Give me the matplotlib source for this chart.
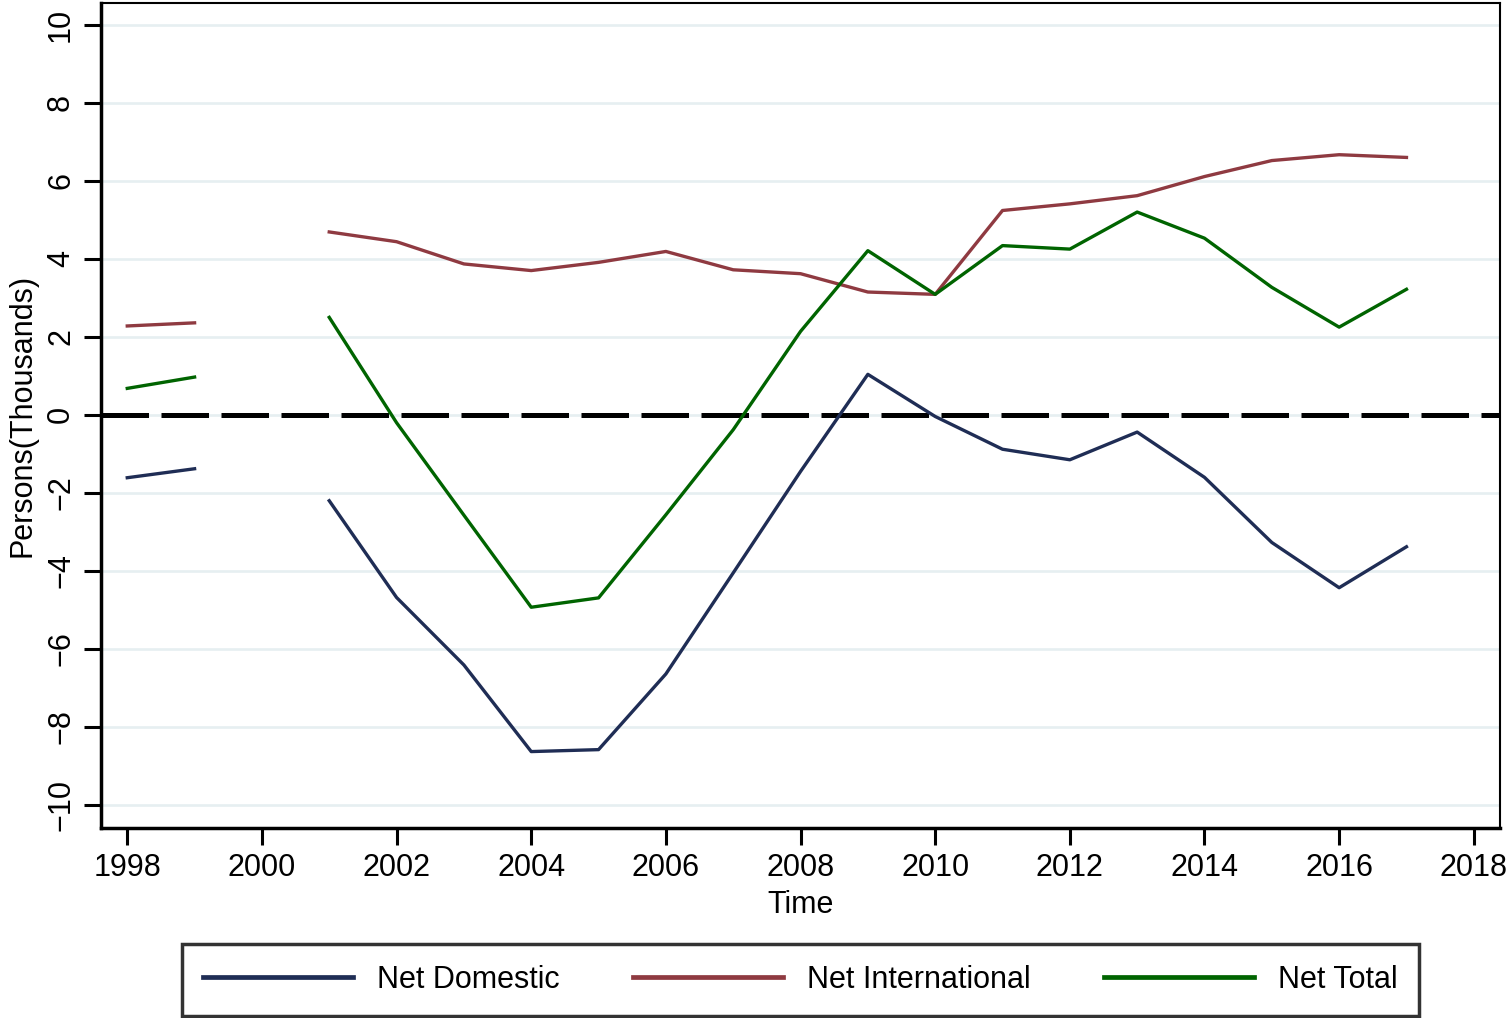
import numpy as np
import matplotlib
matplotlib.use('Agg')
import matplotlib.pyplot as plt

plt.rcParams['font.family'] = ['Liberation Sans', 'DejaVu Sans']

# Data (thousands of persons); 2000 is missing in the source
years = [1998, 1999, 2000, 2001, 2002, 2003, 2004, 2005, 2006, 2007, 2008,
         2009, 2010, 2011, 2012, 2013, 2014, 2015, 2016, 2017]
net_domestic = [-1.61, -1.38, np.nan, -2.20, -4.68, -6.41, -8.63, -8.58, -6.64, -4.05, -1.45,
                1.04, -0.04, -0.88, -1.15, -0.44, -1.60, -3.27, -4.43, -3.38]
net_international = [2.28, 2.36, np.nan, 4.69, 4.44, 3.87, 3.70, 3.91, 4.19, 3.72, 3.62,
                     3.15, 3.09, 5.24, 5.41, 5.62, 6.11, 6.52, 6.67, 6.60]
net_total = [0.68, 0.97, np.nan, 2.50, -0.20, -2.57, -4.93, -4.69, -2.56, -0.38, 2.14,
             4.21, 3.09, 4.34, 4.25, 5.20, 4.53, 3.27, 2.25, 3.22]

x_ticks = list(range(1998, 2019, 2))
y_ticks = list(range(-10, 11, 2))

colors = {
    'domestic': '#1f2d55',
    'international': '#8f3a41',
    'total': '#006400',
    'grid': '#e6eff1',
}

fig = plt.figure(figsize=(15.12, 10.18), dpi=100)
ax = fig.add_axes([0.0668, 0.1866, 0.9253, 0.8105])

# Grid and zero reference line
for yv in y_ticks:
    ax.axhline(yv, color=colors['grid'], lw=1.9, zorder=0)
ax.axhline(0, color='black', lw=3.6, dashes=(9.5, 2.5), zorder=1)

ax.plot(years, net_domestic, color=colors['domestic'], lw=2.4, label='Net Domestic', zorder=3)
ax.plot(years, net_international, color=colors['international'], lw=2.4,
        label='Net International', zorder=3)
ax.plot(years, net_total, color=colors['total'], lw=2.4, label='Net Total', zorder=3)

ax.set_xlim(1997.61, 2018.39)
ax.set_ylim(-10.59, 10.56)
ax.set_xticks(x_ticks)
ax.set_yticks(y_ticks)
ax.set_yticklabels([str(v).replace('-', '\u2212') for v in y_ticks],
                   rotation=90, va='center')
ax.tick_params(axis='both', labelsize=22, length=12, width=2.2, direction='out')
ax.tick_params(axis='y', pad=6)
ax.tick_params(axis='x', pad=6)

for side in ['left', 'bottom']:
    ax.spines[side].set_linewidth(2.5)
for side in ['top', 'right']:
    ax.spines[side].set_linewidth(1.5)

ax.set_xlabel('Time', fontsize=22, labelpad=5)
ax.set_ylabel('Persons(Thousands)', fontsize=22, labelpad=6)

leg = ax.legend(loc='upper center', bbox_to_anchor=(0.5, -0.140), ncol=3,
                fontsize=22, frameon=True, fancybox=False, edgecolor='black',
                handlelength=4.9, handletextpad=0.8, columnspacing=2.4,
                borderpad=0.7, borderaxespad=0)
leg.get_frame().set_linewidth(2.5)
for line in leg.get_lines():
    line.set_linewidth(3.4)

fig.savefig('out.png', dpi=100, facecolor='white')
